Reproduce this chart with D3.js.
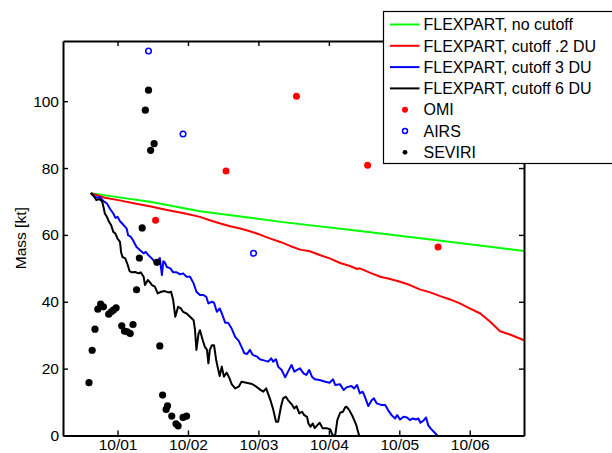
<!DOCTYPE html>
<html>
<head>
<meta charset="utf-8">
<script src="https://cdn.jsdelivr.net/npm/d3@7"></script>
<style>
  body { margin: 0; background: #fff; }
  text { font-family: "Liberation Sans", Arial, Helvetica, sans-serif; }
</style>
</head>
<body>
<div id="chart"></div>
<script>
// time is in days since 10/01 00:00, mass in kt
const dayTicks = [0, 1, 2, 3, 4, 5];
const dayLabels = ["10/01", "10/02", "10/03", "10/04", "10/05", "10/06"];
const massTicks = [0, 20, 40, 60, 80, 100];

const noCutoff = [[-0.38, 72.5], [0, 71.3], [0.46, 69.9], [1.17, 67.1], [2.32, 63.9],
  [3.47, 61.1], [4.62, 58.2], [5.77, 55.2]];

const cutoff02 = [[-0.38, 72.5], [-0.18, 71.1], [0.01, 70.4], [0.25, 69.4], [0.49, 68.4],
  [0.72, 67.4], [0.96, 66.4], [1.17, 65.4], [1.31, 64.4], [1.46, 63.4], [1.6, 62.6],
  [1.74, 61.9], [1.88, 61.1], [2.02, 60.1], [2.17, 58.9], [2.31, 57.9], [2.45, 56.7],
  [2.59, 55.6], [2.73, 55.1], [2.88, 53.9], [3.02, 52.9], [3.16, 51.6], [3.3, 50.7],
  [3.4, 49.8], [3.44, 50.0], [3.58, 48.7], [3.73, 47.5], [3.87, 46.8], [4.01, 46.0],
  [4.15, 45.0], [4.29, 43.7], [4.44, 42.8], [4.58, 41.7], [4.72, 40.7], [4.86, 39.5],
  [5.0, 38.0], [5.15, 36.5], [5.29, 34.0], [5.43, 31.2], [5.57, 30.2], [5.71, 29.0],
  [5.77, 28.5]];

const cutoff3 = [[-0.38, 72.5], [-0.32, 71.4], [-0.28, 71.1], [-0.25, 71.4], [-0.2, 70.1],
  [-0.15, 69.4], [-0.11, 67.9], [-0.06, 66.4], [-0.03, 65.1], [0.0, 65.4], [0.035, 64.1],
  [0.08, 63.1], [0.13, 61.9], [0.15, 59.9], [0.19, 59.4], [0.22, 58.4], [0.27, 56.4],
  [0.32, 55.4], [0.37, 54.5], [0.4, 54.9], [0.44, 53.9], [0.49, 52.9], [0.53, 51.9],
  [0.57, 51.9], [0.6, 53.1], [0.63, 48.0], [0.65, 52.1], [0.67, 51.8], [0.7, 50.4],
  [0.75, 50.0], [0.79, 48.8], [0.84, 48.8], [0.89, 48.2], [0.93, 48.5], [0.98, 47.5],
  [1.03, 47.5], [1.08, 45.5], [1.12, 43.0], [1.17, 42.0], [1.22, 42.0], [1.26, 41.5],
  [1.29, 39.5], [1.34, 40.0], [1.37, 39.7], [1.41, 37.0], [1.45, 38.0], [1.48, 36.5],
  [1.53, 33.7], [1.57, 33.7], [1.62, 32.0], [1.67, 29.5], [1.72, 28.3], [1.76, 26.5],
  [1.8, 24.6], [1.84, 24.4], [1.88, 25.6], [1.92, 24.1], [1.98, 23.6], [2.02, 22.8],
  [2.09, 22.4], [2.14, 22.1], [2.18, 23.1], [2.21, 22.1], [2.25, 22.8], [2.28, 20.6],
  [2.33, 19.6], [2.38, 17.4], [2.42, 19.1], [2.47, 21.1], [2.51, 19.1], [2.55, 19.6],
  [2.59, 20.1], [2.64, 18.6], [2.68, 18.1], [2.72, 19.6], [2.76, 17.6], [2.8, 16.8],
  [2.87, 16.6], [2.95, 16.1], [3.01, 15.8], [3.06, 16.8], [3.09, 15.1], [3.16, 15.3],
  [3.21, 13.6], [3.25, 14.4], [3.32, 14.8], [3.36, 14.1], [3.4, 15.1], [3.44, 12.6],
  [3.48, 13.1], [3.51, 11.6], [3.56, 8.8], [3.61, 10.6], [3.64, 11.1], [3.68, 9.6],
  [3.75, 9.1], [3.8, 9.1], [3.84, 7.6], [3.89, 6.1], [3.94, 5.1], [3.97, 6.1], [4.01, 4.8],
  [4.06, 5.6], [4.11, 5.4], [4.15, 4.6], [4.19, 5.1], [4.24, 4.8], [4.27, 5.1], [4.3, 3.8],
  [4.34, 4.4], [4.38, 5.4], [4.41, 3.1], [4.44, 2.2], [4.54, 0]];

const cutoff6 = [[-0.38, 72.5], [-0.33, 71.4], [-0.3, 70.4], [-0.26, 70.7], [-0.22, 70.1],
  [-0.2, 68.4], [-0.18, 66.4], [-0.15, 65.4], [-0.12, 63.9], [-0.09, 62.9], [-0.06, 60.9],
  [-0.03, 60.4], [0.0, 58.9], [0.035, 57.9], [0.05, 54.9], [0.07, 53.4], [0.11, 53.0],
  [0.145, 51.0], [0.17, 49.2], [0.2, 48.8], [0.25, 48.9], [0.3, 48.5], [0.33, 48.8],
  [0.37, 47.5], [0.39, 45.0], [0.43, 46.5], [0.46, 45.8], [0.49, 45.0], [0.53, 44.5],
  [0.57, 42.5], [0.62, 43.0], [0.67, 43.2], [0.72, 42.8], [0.76, 43.0], [0.79, 40.5],
  [0.82, 35.5], [0.86, 38.5], [0.9, 38.0], [0.93, 37.0], [0.98, 36.5], [1.03, 35.5],
  [1.08, 34.5], [1.1, 31.5], [1.12, 25.6], [1.15, 30.5], [1.17, 31.5], [1.21, 28.5],
  [1.24, 26.5], [1.27, 25.6], [1.29, 21.6], [1.31, 25.6], [1.34, 27.0], [1.37, 27.0],
  [1.4, 22.6], [1.42, 20.6], [1.45, 17.8], [1.48, 20.6], [1.51, 17.6], [1.55, 18.8],
  [1.59, 17.1], [1.62, 15.4], [1.67, 14.1], [1.72, 14.6], [1.76, 16.1], [1.83, 15.8],
  [1.91, 15.4], [1.97, 14.6], [2.02, 13.8], [2.07, 13.1], [2.11, 14.1], [2.17, 10.6],
  [2.21, 7.8], [2.25, 4.1], [2.28, 4.1], [2.32, 8.6], [2.35, 11.1], [2.39, 11.6],
  [2.42, 10.6], [2.47, 9.4], [2.51, 8.1], [2.54, 8.8], [2.58, 6.6], [2.62, 7.1], [2.65, 6.1],
  [2.69, 5.6], [2.71, 3.6], [2.74, 2.6], [2.77, 3.6], [2.8, 2.2], [2.85, 3.4], [2.87, 3.8],
  [2.91, 2.2], [2.97, 2.2], [3.02, 1.8], [3.04, 0.7], [3.06, 0], [3.09, 0], [3.12, 4.6],
  [3.16, 6.8], [3.2, 7.1], [3.23, 8.4], [3.25, 8.6], [3.29, 7.6], [3.34, 5.6], [3.39, 3.1],
  [3.42, 0.7], [3.43, 0]];

const omi = [[0.54, 64.4], [1.54, 79.1], [2.54, 101.5], [3.55, 80.8], [4.55, 56.4]];
const airs = [[0.44, 115.0], [0.93, 90.2], [1.93, 54.5]];
const seviri = [[-0.405, 15.8], [-0.36, 25.5], [-0.32, 31.8], [-0.28, 37.8], [-0.24, 39.3],
  [-0.2, 38.5], [-0.125, 36.3], [-0.09, 37.0], [-0.06, 37.5], [-0.02, 38.2], [0.06, 32.8],
  [0.1, 31.2], [0.14, 31.0], [0.18, 30.5], [0.22, 33.2], [0.27, 43.6], [0.31, 53.1],
  [0.35, 62.1], [0.395, 97.3], [0.44, 103.3], [0.47, 85.3], [0.52, 87.3], [0.56, 51.8],
  [0.6, 26.8], [0.64, 12.1], [0.71, 8.9], [0.69, 7.8], [0.77, 5.8], [0.83, 3.5],
  [0.86, 2.9], [0.93, 5.4], [0.98, 5.8]];

const legendNames = ["FLEXPART, no cutoff", "FLEXPART, cutoff .2 DU", "FLEXPART, cutoff 3 DU",
  "FLEXPART, cutoff 6 DU", "OMI", "AIRS", "SEVIRI"];

const width = 612, height = 453;
const box = {left: 63, right: 524, top: 41, bottom: 435.5};

const svg = d3.select("#chart")
  .append("svg")
  .attr("width", width)
  .attr("height", height);

const x = d3.scaleLinear().domain([-0.774, 5.77]).range([box.left, box.right]);
const y = d3.scaleLinear().domain([0, 118]).range([box.bottom, box.top]);

const line = d3.line()
  .x(d => x(d[0]))
  .y(d => y(d[1]));

const lines = [
  {data: noCutoff, color: "#00ff00"},
  {data: cutoff02, color: "#ff0000"},
  {data: cutoff3, color: "#0000ff"},
  {data: cutoff6, color: "#000000"}
];

lines.forEach(s => {
  svg.append("path")
    .datum(s.data)
    .attr("fill", "none")
    .attr("stroke", s.color)
    .attr("stroke-width", 2)
    .attr("stroke-linejoin", "round")
    .attr("d", line);
});

// satellite retrievals
svg.selectAll(".omi").data(omi).enter().append("circle")
  .attr("cx", d => x(d[0])).attr("cy", d => y(d[1]))
  .attr("r", 3.5).attr("fill", "#ff0000");

svg.selectAll(".airs").data(airs).enter().append("circle")
  .attr("cx", d => x(d[0])).attr("cy", d => y(d[1]))
  .attr("r", 2.8).attr("fill", "none")
  .attr("stroke", "#0000ff").attr("stroke-width", 1.5);

svg.selectAll(".seviri").data(seviri).enter().append("circle")
  .attr("cx", d => x(d[0])).attr("cy", d => y(d[1]))
  .attr("r", 3.6).attr("fill", "#000");

// axes, ticks pointing inward on all four sides
svg.append("g")
  .attr("class", "axis")
  .attr("transform", `translate(0,${box.bottom})`)
  .call(d3.axisBottom(x).tickValues(dayTicks).tickFormat((d, i) => dayLabels[i])
    .tickSizeInner(-5).tickSizeOuter(0).tickPadding(3));

svg.append("g")
  .attr("class", "axis")
  .attr("transform", `translate(${box.left},0)`)
  .call(d3.axisLeft(y).tickValues(massTicks).tickSizeInner(-5).tickSizeOuter(0).tickPadding(4));

svg.append("g")
  .attr("class", "axis")
  .attr("transform", `translate(0,${box.top})`)
  .call(d3.axisTop(x).tickValues(dayTicks).tickFormat("").tickSizeInner(-5).tickSizeOuter(0));

svg.append("g")
  .attr("class", "axis")
  .attr("transform", `translate(${box.right},0)`)
  .call(d3.axisRight(y).tickValues(massTicks).tickFormat("").tickSizeInner(-5).tickSizeOuter(0));

svg.selectAll(".axis .domain").attr("stroke", "#000").attr("stroke-width", 2);
svg.selectAll(".axis line").attr("stroke", "#000").attr("stroke-width", 1.4);
svg.selectAll(".axis text").attr("fill", "#000").style("font-size", "15.5px")
  .style("font-family", "'Liberation Sans', Arial, Helvetica, sans-serif");

// y label
svg.append("text")
  .attr("transform", `translate(26,${(box.top + box.bottom) / 2}) rotate(-90)`)
  .attr("text-anchor", "middle")
  .style("font-size", "15.5px")
  .text("Mass [kt]");

// legend box over top-right corner
const legend = svg.append("g");
legend.append("rect")
  .attr("x", 383.5).attr("y", 11.5)
  .attr("width", 240).attr("height", 152)
  .attr("fill", "#fff").attr("stroke", "#000").attr("stroke-width", 1.2);

const rowY = i => 24.5 + i * 21.3;

lines.forEach((s, i) => {
  legend.append("line")
    .attr("x1", 390).attr("x2", 419.5)
    .attr("y1", rowY(i)).attr("y2", rowY(i))
    .attr("stroke", s.color).attr("stroke-width", 2);
});

legend.append("circle").attr("cx", 405).attr("cy", rowY(4)).attr("r", 3).attr("fill", "#ff0000");
legend.append("circle").attr("cx", 405).attr("cy", rowY(5)).attr("r", 2.5)
  .attr("fill", "none").attr("stroke", "#0000ff").attr("stroke-width", 1.5);
legend.append("circle").attr("cx", 405).attr("cy", rowY(6)).attr("r", 2.4).attr("fill", "#000");

legendNames.forEach((name, i) => {
  legend.append("text")
    .attr("x", 423.5)
    .attr("y", rowY(i))
    .attr("dy", "0.36em")
    .style("font-size", "16px")
    .text(name);
});
</script>
</body>
</html>
